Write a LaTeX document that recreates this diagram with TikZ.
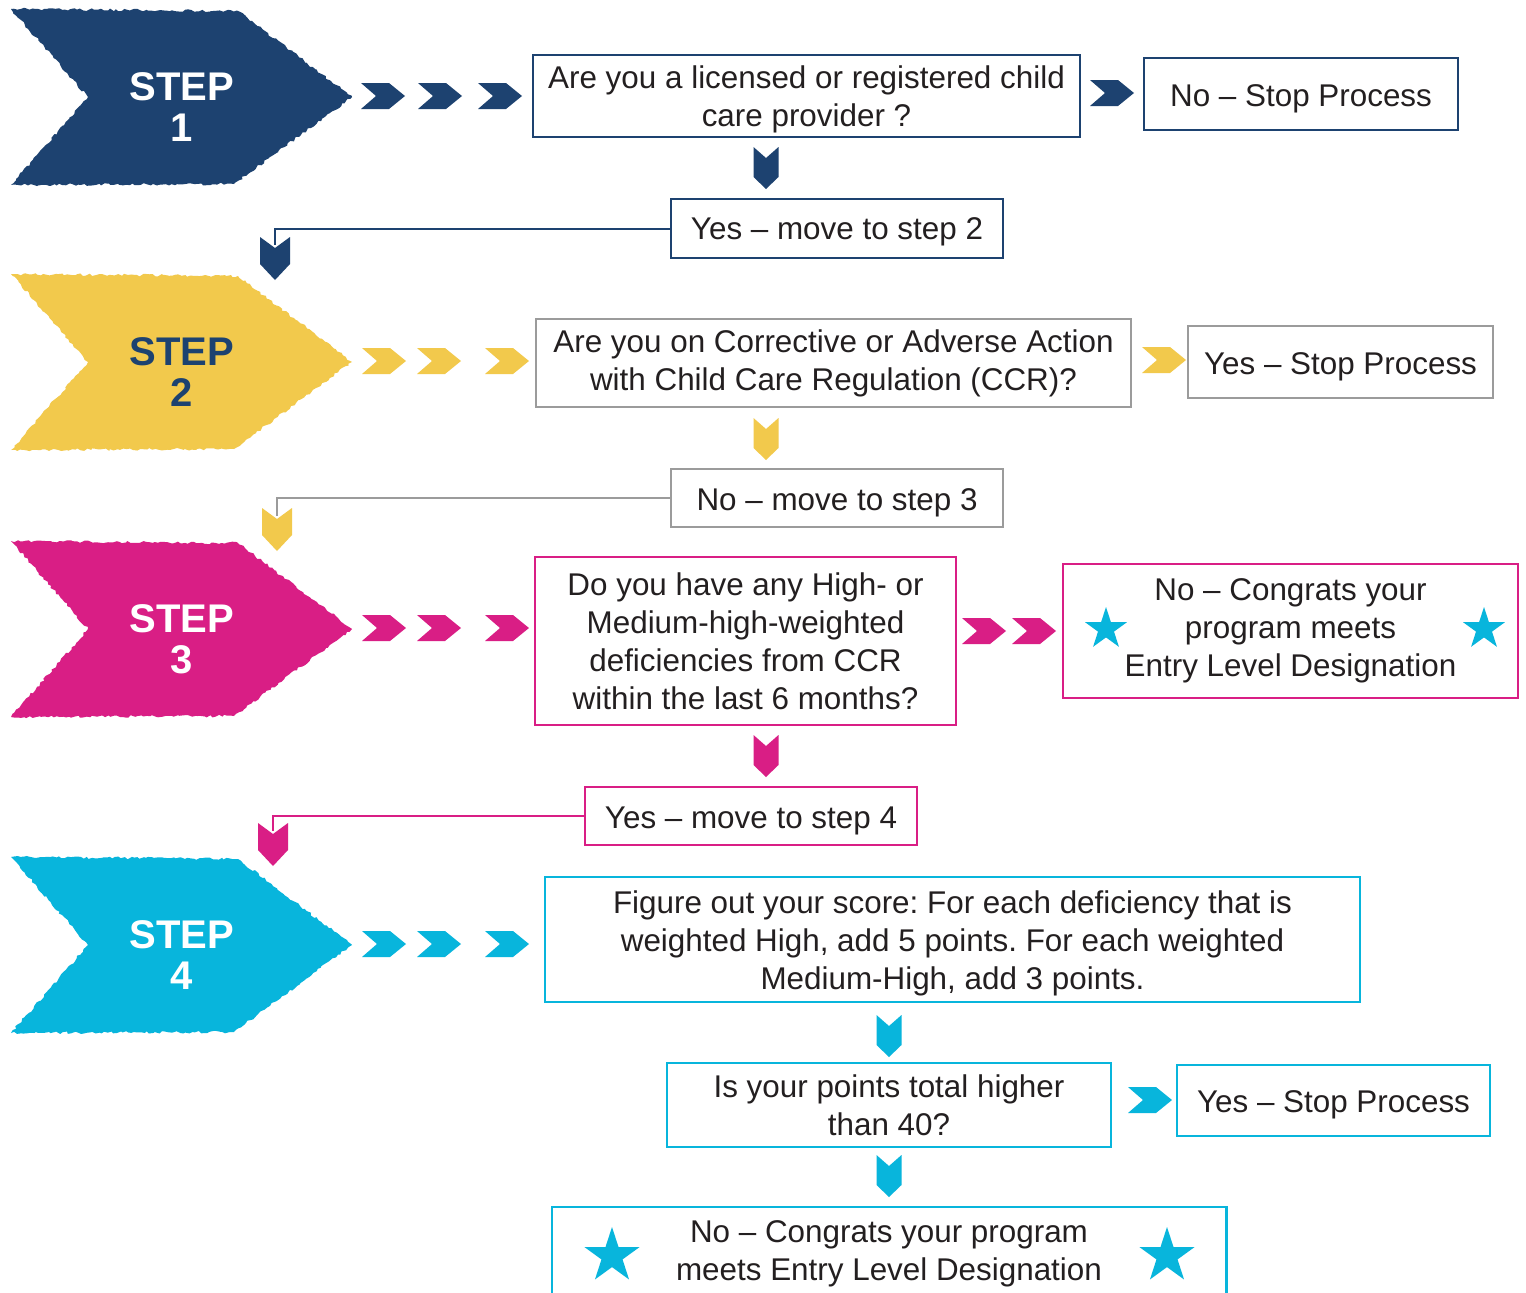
\documentclass[tikz,border=0pt]{standalone}
\usepackage{fontspec}
\setmainfont{Liberation Sans}
\usetikzlibrary{shapes.geometric,decorations.pathmorphing}
\definecolor{navy}{HTML}{1D4270}
\definecolor{sun}{HTML}{F2C94C}
\definecolor{mag}{HTML}{D91E85}
\definecolor{sky}{HTML}{08B5DC}
\definecolor{greyb}{HTML}{9B9B9B}
\definecolor{ink}{HTML}{231F20}
\newcommand{\lowr}{\rule{0pt}{29.5pt}}
\tikzset{
  qbox/.style={draw, line width=2.6pt, fill=white, inner sep=0pt, align=center, text=ink,
    font=\frenchspacing\fontsize{31.4}{38}\selectfont},
  qtext/.style={inner sep=0pt, align=center, text=ink, font=\frenchspacing\fontsize{31.4}{38}\selectfont},
  dropb/.style={execute at begin node={\rule{0pt}{32pt}}},
  dropc/.style={execute at begin node={\rule{0pt}{29.5pt}}},
  steptext/.style={text=white, align=center, font=\bfseries\fontsize{40}{41}\selectfont},
  rough/.style={decorate, decoration={random steps, segment length=3pt, amplitude=1.3pt}},
  rchev/.pic={\fill (0,-13) -- (28,-13) -- (44,0) -- (28,13) -- (0,13) -- (15,0) -- cycle;},
  dchev/.pic={\fill (-12.5,0) -- (0,11) -- (12.5,0) -- (12.5,30) -- (0,42) -- (-12.5,30) -- cycle;},
  cchev/.pic={\fill (-15,0) -- (0,11) -- (15,0) -- (15,27) -- (0,43) -- (-15,27) -- cycle;},
  bigstep/.pic={\fill[rough] (11,-88) -- (238,-86) -- (352,0) -- (234,87) -- (11,88) -- (88,0) -- cycle;},
  staricon/.style={star, star points=5, star point ratio=2.618, fill=sky, inner sep=0pt, draw=none},
  link/.style={line width=2pt},
}
\begin{document}
\begin{tikzpicture}[x=1pt,y=-1pt]
\pgfmathsetseed{7}
\useasboundingbox (0,0) rectangle (1526,1293);
\clip (0,0) rectangle (1526,1293);
\fill[white] (0,0) rectangle (1526,1293);

% ---- big step arrows
\pic[color=navy] at (0,97) {bigstep};
\pic[color=sun] at (0,362) {bigstep};
\pic[color=mag] at (0,629) {bigstep};
\pic[color=sky] at (0,945) {bigstep};
\node[steptext] (s1) at (182,107.5) {STEP\\1};
\node[steptext, text=navy] (s2) at (182,372.5) {STEP\\2};
\node[steptext] (s3) at (182,639.5) {STEP\\3};
\node[steptext] (s4) at (182,955.5) {STEP\\4};

% ---- row chevrons
\foreach \x in {361,418,478} \pic[color=navy] at (\x,96) {rchev};
\foreach \x in {362,417,485} \pic[color=sun] at (\x,361) {rchev};
\foreach \x in {362,417,485} \pic[color=mag] at (\x,628) {rchev};
\foreach \x in {362,417,485} \pic[color=sky] at (\x,944) {rchev};
\pic[color=navy] at (1090,93) {rchev};
\pic[color=sun] at (1142,360) {rchev};
\pic[color=mag] at (962,631) {rchev};
\pic[color=mag] at (1012,631) {rchev};
\pic[color=sky] at (1128,1100) {rchev};

% ---- down chevrons between boxes
\pic[color=navy] at (766,147) {dchev};
\pic[color=sun] at (766,418) {dchev};
\pic[color=mag] at (766,735) {dchev};
\pic[color=sky] at (889,1015) {dchev};
\pic[color=sky] at (889,1155) {dchev};

% ---- boxes
\node[qbox, draw=navy, minimum width=547, minimum height=82] (q1) at (806.5,96)
  {\lowr Are you a licensed or registered child\\care provider ?};
\node[qbox, dropb, draw=navy, minimum width=314, minimum height=72] (stop1) at (1301,94)
  {No – Stop Process};
\node[qbox, dropc, draw=navy, minimum width=332, minimum height=59] (yes2) at (837,228.5)
  {Yes – move to step 2};
\node[qbox, draw=greyb, minimum width=595, minimum height=88] (q2) at (833.5,363)
  {Are you on Corrective or Adverse Action\\with Child Care Regulation (CCR)?};
\node[qbox, dropb, draw=greyb, minimum width=305, minimum height=72] (stop2) at (1340.5,362)
  {Yes – Stop Process};
\node[qbox, dropb, draw=greyb, minimum width=332, minimum height=58] (no3) at (837,498)
  {No – move to step 3};
\node[qbox, draw=mag, minimum width=421, minimum height=168] (q3) at (745.5,641)
  {Do you have any High- or\\Medium-high-weighted\\deficiencies from CCR\\within the last 6 months?};
\node[qbox, draw=mag, minimum width=455, minimum height=134] (c3) at (1290.5,631)
  {No – Congrats your\\program meets\\Entry Level Designation};
\node[qbox, dropb, draw=mag, minimum width=332, minimum height=58] (yes4) at (751,816)
  {Yes – move to step 4};
\node[qbox, draw=sky, minimum width=815, minimum height=125] (q4) at (952.5,939.5)
  {\lowr Figure out your score: For each deficiency that is\\weighted High, add 5 points. For each weighted\\Medium-High, add 3 points.};
\node[qbox, draw=sky, minimum width=444, minimum height=84] (q5) at (889,1105)
  {Is your points total higher\\than 40?};
\node[qbox, dropc, draw=sky, minimum width=313, minimum height=71] (stop4) at (1333.5,1100.5)
  {Yes – Stop Process};
\node[qtext, minimum width=674, minimum height=86] (c4) at (889,1250)
  {\lowr No – Congrats your program\\meets Entry Level Designation};
\draw[sky, line width=2.6pt] (c4.south west) ++(0,20) |- (c4.north east) -- ++(0,106);

% ---- stars
\node[staricon, minimum size=44] (st1) at (1106,629) {};
\node[staricon, minimum size=44] (st2) at (1484,629) {};
\node[staricon, minimum size=58] (st3) at (612,1256) {};
\node[staricon, minimum size=58] (st4) at (1167,1256) {};

% ---- connectors back to the next step
\coordinate (k1) at (275,245);
\coordinate (k2) at (277,516);
\coordinate (k3) at (273,831);
\draw[navy, link] (yes2.west) -| (k1);
\draw[greyb, link] (no3.west) -| (k2);
\draw[mag, link] (yes4.west) -| (k3);
\pic[color=navy] at (275,237) {cchev};
\pic[color=sun] at (277,508) {cchev};
\pic[color=mag] at (273,823) {cchev};
\end{tikzpicture}
\end{document}
